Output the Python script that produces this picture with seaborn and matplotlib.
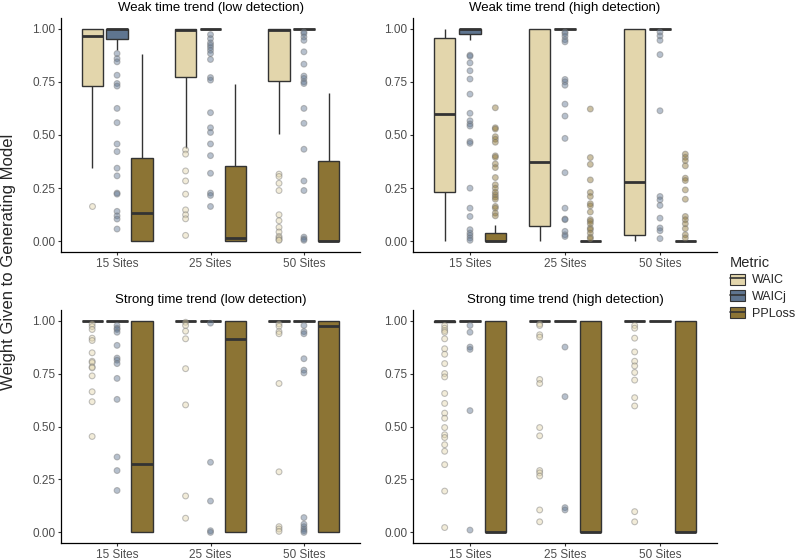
import matplotlib
matplotlib.use("Agg")
import matplotlib.pyplot as plt
import pandas as pd
import seaborn as sns
from matplotlib.legend_handler import HandlerTuple
from matplotlib.lines import Line2D
from matplotlib.patches import Patch
from matplotlib.ticker import FormatStrFormatter

sites = ["15 Sites", "25 Sites", "50 Sites"]
metrics = ["WAIC", "WAICj", "PPLoss"]
metric_colors = ["#E3D6AC", "#5F7590", "#8C7434"]

panel_titles = [
    "Weak time trend (low detection)",
    "Weak time trend (high detection)",
    "Strong time trend (low detection)",
    "Strong time trend (high detection)",
]

# box summaries per site: lower whisker, Q1, median, Q3, upper whisker
weak_low_box = {
    "WAIC": [[0.344, 0.73, 0.967, 1.0, 1.0], [0.44, 0.773, 0.992, 1.0, 1.0], [0.503, 0.756, 0.995, 1.0, 1.0]],
    "WAICj": [[0.898, 0.953, 1.0, 1.0, 1.0], [0.997, 0.997, 1.0, 1.0, 1.0], [0.997, 0.997, 1.0, 1.0, 1.0]],
    "PPLoss": [[0.0, 0.0, 0.133, 0.391, 0.88], [0.0, 0.0, 0.014, 0.352, 0.738], [0.0, 0.0, 0.003, 0.378, 0.698]],
}
weak_high_box = {
    "WAIC": [[0.0, 0.23, 0.598, 0.958, 1.0], [0.0, 0.073, 0.372, 0.997, 1.0], [0.0, 0.028, 0.278, 1.0, 1.0]],
    "WAICj": [[0.945, 0.973, 1.0, 1.0, 1.0], [0.998, 0.998, 1.0, 1.0, 1.0], [0.998, 0.998, 1.0, 1.0, 1.0]],
    "PPLoss": [[0.0, 0.0, 0.0, 0.039, 0.077], [0.0, 0.0, 0.0, 0.002, 0.005], [0.0, 0.0, 0.0, 0.002, 0.004]],
}
strong_low_box = {
    "WAIC": [[0.997, 0.997, 1.0, 1.0, 1.0], [0.997, 0.997, 1.0, 1.0, 1.0], [0.997, 0.997, 1.0, 1.0, 1.0]],
    "WAICj": [[0.997, 0.997, 1.0, 1.0, 1.0], [0.998, 0.998, 1.0, 1.0, 1.0], [0.998, 0.998, 1.0, 1.0, 1.0]],
    "PPLoss": [[0.0, 0.0, 0.325, 1.0, 1.0], [0.0, 0.0, 0.914, 1.0, 1.0], [0.0, 0.0, 0.973, 1.0, 1.0]],
}
strong_high_box = {
    "WAIC": [[0.993, 0.993, 1.0, 1.0, 1.0], [0.997, 0.997, 1.0, 1.0, 1.0], [0.997, 0.997, 1.0, 1.0, 1.0]],
    "WAICj": [[0.998, 0.998, 1.0, 1.0, 1.0], [0.998, 0.998, 1.0, 1.0, 1.0], [0.999, 0.999, 1.0, 1.0, 1.0]],
    "PPLoss": [[0.0, 0.0, 0.0, 1.0, 1.0], [0.0, 0.0, 0.0, 1.0, 1.0], [0.0, 0.0, 0.0, 1.0, 1.0]],
}

# outlying points per site
weak_low_out = {
    "WAIC": [
        [0.167],
        [0.43, 0.41, 0.331, 0.284, 0.222, 0.148, 0.125, 0.106, 0.028],
        [0.316, 0.305, 0.273, 0.239, 0.125, 0.097, 0.066, 0.044, 0.023, 0.016, 0.008, 0.005],
    ],
    "WAICj": [
        [0.883, 0.859, 0.844, 0.781, 0.742, 0.73, 0.625, 0.558, 0.458, 0.422, 0.344, 0.308,
         0.227, 0.222, 0.141, 0.12, 0.105, 0.058],
        [0.972, 0.953, 0.933, 0.922, 0.911, 0.898, 0.883, 0.855, 0.77, 0.758, 0.605, 0.534,
         0.512, 0.458, 0.403, 0.32, 0.227, 0.216, 0.164],
        [0.984, 0.977, 0.961, 0.945, 0.891, 0.833, 0.777, 0.766, 0.75, 0.742, 0.625, 0.555,
         0.433, 0.284, 0.239, 0.02, 0.011, 0.005],
    ],
    "PPLoss": [[], [], []],
}
weak_high_out = {
    "WAIC": [[], [], []],
    "WAICj": [
        [0.875, 0.87, 0.839, 0.802, 0.763, 0.692, 0.602, 0.567, 0.552, 0.542, 0.469, 0.461,
         0.25, 0.156, 0.117, 0.055, 0.039, 0.028, 0.016, 0.005],
        [0.984, 0.977, 0.964, 0.948, 0.938, 0.761, 0.75, 0.734, 0.645, 0.589, 0.484, 0.323,
         0.156, 0.105, 0.102, 0.047, 0.031, 0.023],
        [0.984, 0.966, 0.945, 0.878, 0.614, 0.211, 0.195, 0.169, 0.109, 0.063, 0.05, 0.013],
    ],
    "PPLoss": [
        [0.628, 0.534, 0.528, 0.492, 0.48, 0.466, 0.402, 0.395, 0.364, 0.347, 0.3, 0.266,
         0.25, 0.231, 0.219, 0.208, 0.198, 0.164, 0.156, 0.133, 0.12],
        [0.622, 0.394, 0.362, 0.289, 0.23, 0.211, 0.177, 0.167, 0.138, 0.102, 0.094, 0.083,
         0.062, 0.055, 0.039, 0.02, 0.013],
        [0.41, 0.395, 0.38, 0.355, 0.297, 0.286, 0.242, 0.198, 0.117, 0.102, 0.083, 0.06,
         0.031, 0.016],
    ],
}
strong_low_out = {
    "WAIC": [
        [0.984, 0.972, 0.958, 0.917, 0.906, 0.848, 0.808, 0.802, 0.781, 0.777, 0.739, 0.664,
         0.617, 0.453],
        [0.992, 0.977, 0.95, 0.914, 0.773, 0.602, 0.172, 0.067],
        [0.984, 0.973, 0.948, 0.938, 0.703, 0.286, 0.027, 0.016, 0.005],
    ],
    "WAICj": [
        [0.977, 0.964, 0.958, 0.945, 0.883, 0.823, 0.813, 0.797, 0.727, 0.628, 0.356, 0.292,
         0.198],
        [0.988, 0.331, 0.148, 0.008, 0.0],
        [0.977, 0.948, 0.938, 0.82, 0.766, 0.753, 0.07, 0.039, 0.027, 0.016, 0.008, 0.0],
    ],
    "PPLoss": [[], [], []],
}
strong_high_out = {
    "WAIC": [
        [0.977, 0.964, 0.953, 0.945, 0.914, 0.867, 0.841, 0.797, 0.75, 0.734, 0.656, 0.609,
         0.563, 0.539, 0.495, 0.461, 0.448, 0.414, 0.383, 0.32, 0.195, 0.023],
        [0.984, 0.977, 0.933, 0.922, 0.722, 0.703, 0.495, 0.456, 0.292, 0.281, 0.266, 0.106,
         0.05],
        [0.977, 0.964, 0.917, 0.852, 0.808, 0.786, 0.755, 0.719, 0.636, 0.597, 0.098, 0.05],
    ],
    "WAICj": [
        [0.977, 0.945, 0.875, 0.864, 0.575, 0.011],
        [0.875, 0.641, 0.117, 0.106],
        [],
    ],
    "PPLoss": [[], [], []],
}


def to_long(values):
    rows = []
    for metric in metrics:
        for site, vals in zip(sites, values[metric]):
            for v in vals:
                rows.append({"sites": site, "metric": metric, "weight": v})
    return pd.DataFrame(rows, columns=["sites", "metric", "weight"])


sns.set_theme(style="ticks")
plt.rcParams["font.family"] = ["Liberation Sans", "DejaVu Sans"]

palette = dict(zip(metrics, metric_colors))
fig = plt.figure(figsize=(7.95, 5.60), dpi=100)

# panel rectangles in pixels: left, top, right, bottom
panel_px = [(61, 18, 360, 252), (413, 18, 717, 252), (61, 310, 360, 543), (413, 310, 717, 543)]
panel_box = [weak_low_box, weak_high_box, strong_low_box, strong_high_box]
panel_out = [weak_low_out, weak_high_out, strong_low_out, strong_high_out]

for (l, t, r, b), title, box, out in zip(panel_px, panel_titles, panel_box, panel_out):
    ax = fig.add_axes([l / 795, 1 - b / 560, (r - l) / 795, (b - t) / 560])
    sns.boxplot(
        data=to_long(box), x="sites", y="weight", hue="metric",
        order=sites, hue_order=metrics, palette=palette, saturation=1,
        width=0.8, gap=0.15, whis=(0, 100), showfliers=False, showcaps=False,
        linecolor="#333333", linewidth=1.0,
        medianprops={"linewidth": 2.0, "color": "#333333"},
        whiskerprops={"color": "#333333"},
        legend=False, ax=ax,
    )
    sns.stripplot(
        data=to_long(out), x="sites", y="weight", hue="metric",
        order=sites, hue_order=metrics, palette=palette,
        dodge=True, jitter=False, size=4.2, alpha=0.45,
        edgecolor="#777777", linewidth=0.8, legend=False, ax=ax,
    )
    ax.set_xlim(-0.6, 2.6)
    ax.set_ylim(-0.05, 1.05)
    ax.set_yticks([0, 0.25, 0.5, 0.75, 1.0])
    ax.yaxis.set_major_formatter(FormatStrFormatter("%.2f"))
    ax.set_xlabel("")
    ax.set_ylabel("")
    ax.set_title(title, fontsize=9.5, pad=5, color="black")
    sns.despine(ax=ax)
    for side in ["left", "bottom"]:
        ax.spines[side].set_color("black")
        ax.spines[side].set_linewidth(0.9)
    ax.tick_params(labelsize=8.5, labelcolor="#4D4D4D", color="#333333",
                   length=2.5, width=0.8, pad=1.5)

fig.text(0.011, 1 - 262 / 560, "Weight Given to Generating Model",
         rotation=90, va="center", ha="center", fontsize=12)

handles = [
    (Patch(facecolor=palette[m], edgecolor="#333333", linewidth=0.8),
     Line2D([], [], color="#333333", linewidth=1.2))
    for m in metrics
]
fig.legend(
    handles, metrics, title="Metric", loc="upper left",
    bbox_to_anchor=(721 / 795, 1 - 247 / 560), frameon=False,
    handler_map={tuple: HandlerTuple(ndivide=1)},
    handlelength=1.2, handleheight=1.0, handletextpad=0.6, labelspacing=0.3,
    fontsize=9, title_fontsize=10.5, alignment="left", borderpad=0.2,
)

fig.savefig("out.png", dpi=100)
plt.close(fig)
